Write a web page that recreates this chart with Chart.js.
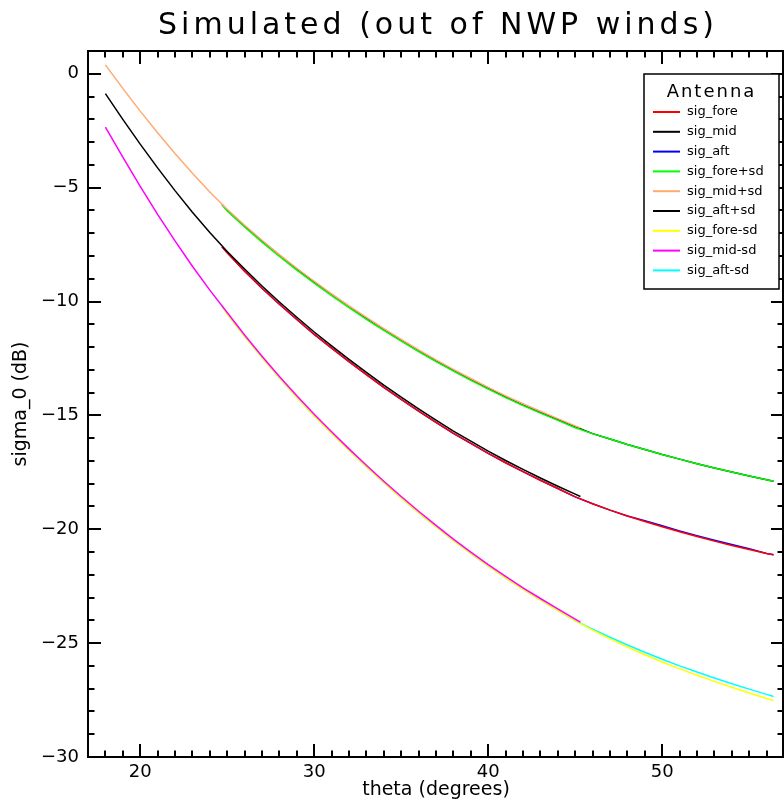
<!DOCTYPE html>
<html>
<head>
<meta charset="utf-8">
<title>Simulated (out of NWP winds)</title>
<script src="https://cdn.jsdelivr.net/npm/chart.js@4.4.0/dist/chart.umd.min.js"></script>
<style>
  html, body { margin: 0; padding: 0; background: #fff; }
  #wrap { width: 784px; height: 805px; }
</style>
</head>
<body>
<div id="wrap"><canvas id="sigmaChart" width="784" height="805"></canvas></div>
<script>
// incidence angles (deg): mid antenna, and fore/aft antennas
const midTheta = [18, 19, 20, 21, 22, 23, 24, 25, 26, 27, 28, 29, 30, 31, 32, 33, 34, 35, 36, 37,
  38, 39, 40, 41, 42, 43, 44, 45, 45.3];
const sideTheta = [24.7, 25, 26, 27, 28, 29, 30, 31, 32, 33, 34, 35, 36, 37, 38, 39, 40, 41, 42, 43,
  44, 45, 46, 47, 48, 49, 50, 51, 52, 53, 54, 55, 56, 56.4];

// sigma_0 (dB)
const sigFore = [-7.60, -7.86, -8.67, -9.42, -10.12, -10.79, -11.44, -12.05, -12.64, -13.21, -13.77,
  -14.30, -14.81, -15.31, -15.79, -16.23, -16.67, -17.08, -17.47, -17.85, -18.21, -18.58,
  -18.88, -19.16, -19.42, -19.66, -19.89, -20.11, -20.32, -20.52, -20.71, -20.89, -21.06, -21.12];
const sigMid = [-0.87, -2.00, -3.09, -4.13, -5.13, -6.08, -6.97, -7.80, -8.57, -9.32, -10.02, -10.69,
  -11.34, -11.95, -12.54, -13.11, -13.67, -14.20, -14.71, -15.21, -15.69, -16.13, -16.57, -16.98,
  -17.37, -17.75, -18.11, -18.46, -18.56];
const sigAft = [-7.60, -7.86, -8.67, -9.42, -10.12, -10.79, -11.44, -12.05, -12.64, -13.21, -13.77,
  -14.30, -14.81, -15.31, -15.79, -16.23, -16.67, -17.08, -17.47, -17.85, -18.21, -18.58,
  -18.88, -19.16, -19.42, -19.62, -19.85, -20.07, -20.28, -20.48, -20.67, -20.86, -21.06, -21.12];
const sigForePlus = [-5.74, -6.03, -6.73, -7.39, -8.02, -8.62, -9.19, -9.74, -10.27, -10.78, -11.27,
  -11.74, -12.20, -12.64, -13.06, -13.46, -13.85, -14.22, -14.57, -14.90, -15.22, -15.54,
  -15.80, -16.04, -16.28, -16.50, -16.72, -16.92, -17.12, -17.31, -17.49, -17.66, -17.83, -17.89];
const sigMidPlus = [0.39, -0.64, -1.64, -2.59, -3.50, -4.37, -5.19, -5.95, -6.65, -7.31, -7.94, -8.54,
  -9.11, -9.66, -10.19, -10.70, -11.19, -11.66, -12.12, -12.56, -12.98, -13.38, -13.77, -14.14,
  -14.49, -14.82, -15.14, -15.46, -15.55];
const sigAftPlus = [-5.74, -5.99, -6.69, -7.35, -7.98, -8.58, -9.15, -9.70, -10.23, -10.74, -11.23,
  -11.70, -12.16, -12.60, -13.02, -13.42, -13.81, -14.18, -14.53, -14.86, -15.18, -15.50,
  -15.80, -16.04, -16.28, -16.50, -16.72, -16.92, -17.12, -17.31, -17.49, -17.66, -17.83, -17.89];
const sigForeMinus = [-10.20, -10.54, -11.53, -12.46, -13.35, -14.20, -15.01, -15.78, -16.53, -17.25,
  -17.95, -18.62, -19.27, -19.89, -20.49, -21.06, -21.61, -22.13, -22.63, -23.10, -23.56, -24.01,
  -24.43, -24.81, -25.17, -25.51, -25.83, -26.13, -26.41, -26.68, -26.94, -27.19, -27.43, -27.52];
const sigMidMinus = [-2.34, -3.66, -4.94, -6.17, -7.34, -8.45, -9.50, -10.48, -11.47, -12.40, -13.29,
  -14.14, -14.95, -15.72, -16.47, -17.19, -17.89, -18.56, -19.21, -19.83, -20.43, -21.00, -21.55,
  -22.07, -22.57, -23.04, -23.50, -23.95, -24.08];
const sigAftMinus = [-10.20, -10.54, -11.53, -12.46, -13.35, -14.20, -15.01, -15.78, -16.53, -17.25,
  -17.95, -18.62, -19.27, -19.89, -20.49, -21.06, -21.61, -22.13, -22.63, -23.10, -23.56, -24.01,
  -24.39, -24.74, -25.08, -25.40, -25.71, -26.00, -26.27, -26.53, -26.78, -27.02, -27.25, -27.34];

const seriesNames = ['sig_fore', 'sig_mid', 'sig_aft', 'sig_fore+sd', 'sig_mid+sd', 'sig_aft+sd',
  'sig_fore-sd', 'sig_mid-sd', 'sig_aft-sd'];
const seriesValues = [sigFore, sigMid, sigAft, sigForePlus, sigMidPlus, sigAftPlus,
  sigForeMinus, sigMidMinus, sigAftMinus];
const seriesTheta = [sideTheta, midTheta, sideTheta, sideTheta, midTheta, sideTheta,
  sideTheta, midTheta, sideTheta];
const seriesColors = ['#ff0000', '#000000', '#0000ff', '#00ff00', '#ffaa70', '#000000',
  '#ffff00', '#ff00ff', '#00ffff'];
const seriesOrder = [1, 0, 2, 1, 0, 2, 1, 0, 2];

const xTicks = [20, 30, 40, 50];
const yTicks = [-30, -25, -20, -15, -10, -5, 0];

const FONT = '"DejaVu Sans", "Liberation Sans", sans-serif';

const datasets = seriesNames.map((name, i) => ({
  label: name,
  data: seriesValues[i].map((v, j) => ({ x: seriesTheta[i][j], y: v })),
  borderColor: seriesColors[i],
  borderWidth: 1.5,
  pointRadius: 0,
  fill: false,
  tension: 0,
  order: seriesOrder[i]
}));

// IDL-like box, inward ticks, title and legend
const idlFrame = {
  id: 'idlFrame',
  afterDraw(chart) {
    const { ctx, chartArea: a, scales: { x, y } } = chart;
    ctx.save();
    ctx.strokeStyle = '#000';
    ctx.lineWidth = 2;
    ctx.strokeRect(a.left, a.top, a.right - a.left - 1, a.bottom - a.top);

    ctx.beginPath();
    for (let v = Math.ceil(x.min) + 1; v < x.max; v++) {
      const px = Math.round(x.getPixelForValue(v));
      const len = v % 10 === 0 ? 13 : 6.5;
      ctx.moveTo(px, a.bottom); ctx.lineTo(px, a.bottom - len);
      ctx.moveTo(px, a.top); ctx.lineTo(px, a.top + len);
    }
    for (let v = Math.ceil(y.min) + 1; v < y.max; v++) {
      const py = Math.round(y.getPixelForValue(v));
      const len = v % 5 === 0 ? 13 : 6.5;
      ctx.moveTo(a.left, py); ctx.lineTo(a.left + len, py);
      ctx.moveTo(a.right, py); ctx.lineTo(a.right - len, py);
    }
    ctx.stroke();

    // title
    ctx.fillStyle = '#000';
    ctx.font = '30px ' + FONT;
    ctx.letterSpacing = '4px';
    ctx.textAlign = 'center';
    ctx.textBaseline = 'middle';
    ctx.fillText('Simulated (out of NWP winds)', (a.left + a.right) / 2 + 2, 26);

    // legend box
    const bx = a.right - 140, by = a.top + 23, bw = 135, bh = 215;
    ctx.fillStyle = '#fff';
    ctx.fillRect(bx, by, bw, bh);
    ctx.lineWidth = 1.5;
    ctx.strokeRect(bx, by, bw, bh);
    ctx.fillStyle = '#000';
    ctx.font = '18px ' + FONT;
    ctx.letterSpacing = '2px';
    ctx.fillText('Antenna', bx + bw / 2, by + 18);
    ctx.letterSpacing = '0px';
    ctx.font = '13px ' + FONT;
    ctx.textAlign = 'left';
    chart.data.datasets.forEach((ds, i) => {
      const ly = by + 38 + i * 19.8;
      ctx.strokeStyle = ds.borderColor;
      ctx.lineWidth = 2;
      ctx.beginPath();
      ctx.moveTo(bx + 9, ly); ctx.lineTo(bx + 36, ly);
      ctx.stroke();
      ctx.fillText(ds.label, bx + 43, ly);
    });
    ctx.restore();
  }
};

const fmt = v => (v < 0 ? '\u2212' + Math.abs(v) : String(v));

new Chart(document.getElementById('sigmaChart'), {
  type: 'line',
  data: { datasets },
  options: {
    responsive: false,
    devicePixelRatio: 1,
    animation: false,
    layout: { padding: { top: 51, right: 0, left: 0, bottom: 0 } },
    plugins: {
      legend: { display: false },
      tooltip: { enabled: false },
      title: { display: false }
    },
    scales: {
      x: {
        type: 'linear',
        min: 17,
        max: 57,
        grid: { display: false, drawTicks: false, tickLength: 0 },
        border: { display: false },
        afterBuildTicks: s => { s.ticks = xTicks.map(v => ({ value: v })); },
        afterFit: s => { s.height = 48; },
        ticks: { color: '#000', padding: 5, maxRotation: 0, autoSkip: false,
          font: { family: FONT, size: 18 }, callback: fmt },
        title: { display: true, text: 'theta (degrees)', color: '#000',
          font: { family: FONT, size: 19 }, padding: { top: 0, bottom: 4 } }
      },
      y: {
        type: 'linear',
        min: -30,
        max: 1,
        grid: { display: false, drawTicks: false, tickLength: 0 },
        border: { display: false },
        afterBuildTicks: s => { s.ticks = yTicks.map(v => ({ value: v })); },
        afterFit: s => { s.width = 88; },
        ticks: { color: '#000', padding: 9, autoSkip: false,
          font: { family: FONT, size: 18 }, callback: fmt },
        title: { display: true, text: 'sigma_0 (dB)', color: '#000',
          font: { family: FONT, size: 19 }, padding: { top: 10, bottom: 0 } }
      }
    }
  },
  plugins: [idlFrame]
});
</script>
</body>
</html>
